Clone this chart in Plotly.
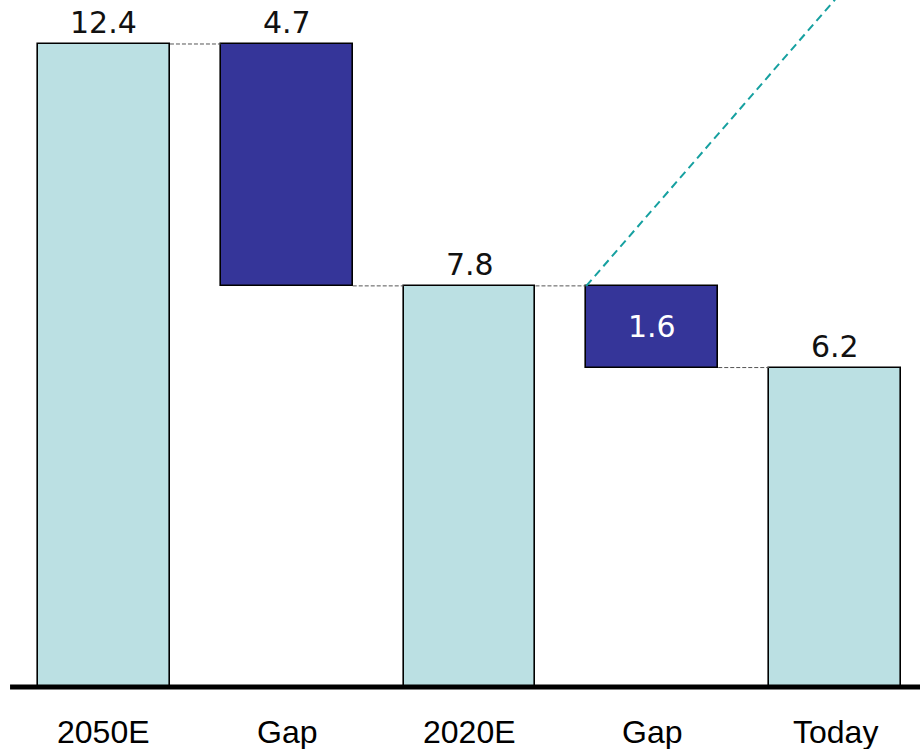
import plotly.graph_objects as go

# Waterfall: 2050E target, gap, 2020E target, gap, today
categories = ["2050E", "Gap", "2020E", "Gap", "Today"]
totals = {"2050E": 12.44, "2020E": 7.76, "Today": 6.18}
gap_1 = totals["2050E"] - totals["2020E"]
gap_2 = totals["2020E"] - totals["Today"]

bar_kind = ["total", "gap", "total", "gap", "total"]
bar_base = [0, totals["2020E"], 0, totals["Today"], 0]
bar_height = [totals["2050E"], gap_1, totals["2020E"], gap_2, totals["Today"]]

# trend line rising from the top of the second gap toward the "Today" column
trend_target_x = 4.0
trend_target_y = 13.3

TOTAL_COLOR = "#BBE0E3"
GAP_COLOR = "#353599"
BAR_WIDTH = 0.722

x_pos = list(range(len(categories)))
colors = [TOTAL_COLOR if k == "total" else GAP_COLOR for k in bar_kind]

fig = go.Figure()
fig.add_trace(go.Bar(
    x=x_pos, y=bar_height, base=bar_base, width=BAR_WIDTH,
    marker=dict(color=colors, line=dict(color="#000000", width=1.6)),
    hoverinfo="skip", showlegend=False,
))

# dashed connectors between neighbouring bars
half = BAR_WIDTH / 2
tops = [b + h for b, h in zip(bar_base, bar_height)]
levels = [tops[0], bar_base[1], tops[2], bar_base[3]]
for i, lvl in enumerate(levels):
    fig.add_trace(go.Scatter(
        x=[x_pos[i] + half, x_pos[i + 1] - half], y=[lvl, lvl], mode="lines",
        line=dict(color="#555555", width=1, dash="4px,2px"),
        hoverinfo="skip", showlegend=False,
    ))

# teal dashed trend line
fig.add_trace(go.Scatter(
    x=[x_pos[3] - half, trend_target_x], y=[tops[3], trend_target_y], mode="lines",
    line=dict(color="#16A0A0", width=2, dash="8px,5px"),
    hoverinfo="skip", showlegend=False,
))

annotations = []
for i, (k, b, h) in enumerate(zip(bar_kind, bar_base, bar_height)):
    label = f"{h:.1f}"
    if i == 3:
        annotations.append(dict(
            x=x_pos[i], y=b + h / 2, text=label, showarrow=False,
            xanchor="center", yanchor="middle",
            font=dict(family="DejaVu Sans", size=30, color="#FFFFFF"),
        ))
    else:
        annotations.append(dict(
            x=x_pos[i], y=b + h, text=label, showarrow=False,
            xanchor="center", yanchor="middle", yshift=21,
            font=dict(family="DejaVu Sans", size=30, color="#111111"),
        ))
    annotations.append(dict(
        x=x_pos[i], y=0, text=categories[i], showarrow=False,
        xanchor="center", yanchor="middle", yshift=-45,
        font=dict(family="Liberation Sans", size=32, color="#000000"),
    ))

x_range = [-0.569, 4.465]
fig.update_layout(
    width=920, height=749,
    margin=dict(l=0, r=0, t=0, b=0, pad=0),
    paper_bgcolor="white", plot_bgcolor="white",
    bargap=0,
    xaxis=dict(range=x_range, visible=False, fixedrange=True),
    yaxis=dict(range=[-1.1995, 13.291], visible=False, fixedrange=True),
    annotations=annotations,
    shapes=[dict(
        type="line", xref="x", yref="y", x0=-0.514, x1=x_range[1], y0=0, y1=0,
        line=dict(color="#000000", width=5),
    )],
)

fig.write_html("out.html")
